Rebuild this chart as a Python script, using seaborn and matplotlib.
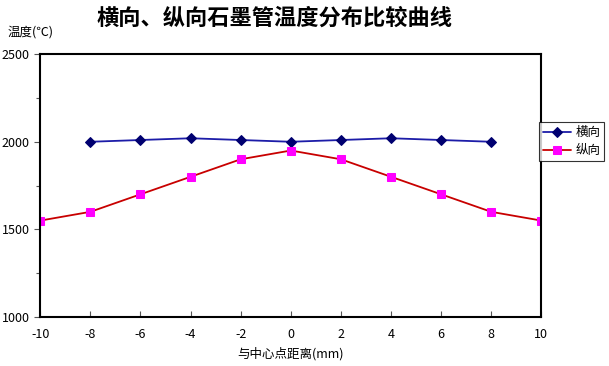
import matplotlib
matplotlib.use("Agg")
import matplotlib.pyplot as plt
from matplotlib.ticker import MultipleLocator
import seaborn as sns
import pandas as pd

# 数据
heng_x = [-8, -6, -4, -2, 0, 2, 4, 6, 8]
heng_t = [2000, 2010, 2020, 2010, 2000, 2010, 2020, 2010, 2000]
zong_x = [-10, -8, -6, -4, -2, 0, 2, 4, 6, 8, 10]
zong_t = [1550, 1600, 1700, 1800, 1900, 1950, 1900, 1800, 1700, 1600, 1550]
x_ticks = list(range(-10, 11, 2))
y_ticks = [1000, 1500, 2000, 2500]

sns.set_style("white")
plt.rcParams['font.family'] = ['Noto Sans CJK SC', 'DejaVu Sans']
plt.rcParams['axes.unicode_minus'] = False
plt.rcParams['text.color'] = 'black'
plt.rcParams['axes.labelcolor'] = 'black'
plt.rcParams['xtick.color'] = 'black'
plt.rcParams['ytick.color'] = 'black'

df = pd.concat([
    pd.DataFrame({'x': heng_x, 't': heng_t, 's': '横向'}),
    pd.DataFrame({'x': zong_x, 't': zong_t, 's': '纵向'}),
])

fig = plt.figure(figsize=(6.09, 3.66), dpi=100)
ax = fig.add_axes([0.066, 0.134, 0.823, 0.718])

sns.lineplot(data=df[df.s == '横向'], x='x', y='t', ax=ax, color='#1c1ca8', lw=1.3,
             marker='D', markersize=5, markerfacecolor='#000070', markeredgecolor='#000070',
             label='横向')
sns.lineplot(data=df[df.s == '纵向'], x='x', y='t', ax=ax, color='#c80000', lw=1.3,
             marker='s', markersize=6, markerfacecolor='#ff00ff', markeredgecolor='#ff00ff',
             label='纵向')

ax.set_xlim(-10, 10)
ax.set_ylim(1000, 2500)
ax.set_xticks(x_ticks)
ax.set_yticks(y_ticks)
ax.yaxis.set_minor_locator(MultipleLocator(250))
ax.tick_params(axis='x', bottom=True, direction='in', length=4, width=0.8,
               labelsize=9, pad=8, color='#555555')
ax.tick_params(axis='y', which='both', left=True, direction='out', length=4, width=0.8,
               labelsize=9, color='#555555')
ax.tick_params(axis='y', which='minor', length=3)
for sp in ax.spines.values():
    sp.set_color('black')
    sp.set_linewidth(1.5)
ax.set_xlabel('与中心点距离(mm)', fontsize=9, labelpad=4)
ax.set_ylabel('')

fig.text(0.45, 0.95, '横向、纵向石墨管温度分布比较曲线', ha='center', va='center',
         fontsize=16, fontweight='bold')
fig.text(0.013, 0.912, '温度(℃)', ha='left', va='center', fontsize=9)

leg = ax.legend(loc='upper left', bbox_to_anchor=(0.996, 0.74), frameon=True,
                fancybox=False, fontsize=9, handlelength=2.2, borderpad=0.3,
                labelspacing=0.4, handletextpad=0.4, borderaxespad=0)
leg.get_frame().set_edgecolor('black')
leg.get_frame().set_linewidth(0.8)

fig.savefig('out.png', dpi=100)
